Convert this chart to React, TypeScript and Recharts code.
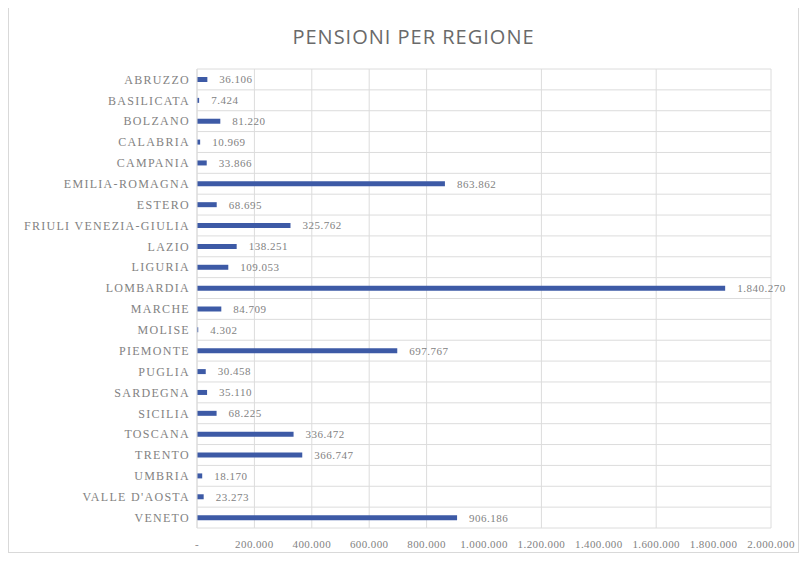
import React from "react";
import { BarChart, Bar, XAxis, YAxis, CartesianGrid, LabelList } from "recharts";

const regions = [
  "ABRUZZO",
  "BASILICATA",
  "BOLZANO",
  "CALABRIA",
  "CAMPANIA",
  "EMILIA-ROMAGNA",
  "ESTERO",
  "FRIULI VENEZIA-GIULIA",
  "LAZIO",
  "LIGURIA",
  "LOMBARDIA",
  "MARCHE",
  "MOLISE",
  "PIEMONTE",
  "PUGLIA",
  "SARDEGNA",
  "SICILIA",
  "TOSCANA",
  "TRENTO",
  "UMBRIA",
  "VALLE D'AOSTA",
  "VENETO",
];

const pensioni = [
  36106, 7424, 81220, 10969, 33866, 863862, 68695, 325762, 138251, 109053,
  1840270, 84709, 4302, 697767, 30458, 35110, 68225, 336472, 366747, 18170,
  23273, 906186,
];

const xTicks = [0, 200000, 400000, 600000, 800000, 1000000, 1200000, 1400000, 1600000, 1800000, 2000000];

const data = regions.map((r, i) => ({ region: r, value: pensioni[i] }));

const BAR_COLOR = "#3d5aa6";
const GRID = "#dcdcdc";
const TEXT = "#828282";
const LABEL_FONT = "'Liberation Serif', 'DejaVu Serif', serif";

// Italian-style thousands separator
function fmt(v: number): string {
  if (v === 0) return "-";
  return String(Math.round(v)).replace(/\B(?=(\d{3})+(?!\d))/g, ".");
}

export default function App() {
  return (
    <div
      style={{
        position: "relative",
        width: 791,
        height: 548,
        border: "1px solid #d9d9d9",
        boxSizing: "border-box",
        background: "#fff",
        marginTop: -3,
      }}
    >
      <div
        style={{
          position: "absolute",
          top: 17,
          left: 10,
          width: "100%",
          textAlign: "center",
          fontFamily: "'Open Sans', 'Noto Sans', sans-serif",
          fontSize: 20,
          letterSpacing: 1,
          color: "#6a6a6a",
        }}
      >
        PENSIONI PER REGIONE
      </div>
      <BarChart
        width={789}
        height={546}
        data={data}
        layout="vertical"
        margin={{ top: 63, right: 27, left: 0, bottom: 0 }}
        barCategoryGap={0}
      >
        <CartesianGrid
          stroke={GRID}
          horizontalCoordinatesGenerator={({ offset }: any) => {
            const band = offset.height / regions.length;
            return regions.map((_, i) => offset.top + i * band).concat(offset.top + offset.height);
          }}
        />
        <XAxis
          type="number"
          domain={[0, 2000000]}
          ticks={xTicks}
          tickFormatter={fmt}
          axisLine={false}
          tickLine={false}
          tickMargin={6}
          height={24}
          tick={{ fill: TEXT, fontSize: 11, fontFamily: LABEL_FONT, letterSpacing: 0.4 }}
        />
        <YAxis
          type="category"
          dataKey="region"
          width={188}
          axisLine={{ stroke: GRID }}
          tickLine={false}
          tickMargin={1}
          interval={0}
          tick={{ fill: TEXT, fontSize: 12, fontFamily: LABEL_FONT, letterSpacing: 1.3 }}
        />
        <Bar dataKey="value" fill={BAR_COLOR} barSize={5} isAnimationActive={false}>
          <LabelList
            dataKey="value"
            position="right"
            offset={12}
            formatter={(v: any) => fmt(Number(v))}
            style={{ fill: TEXT, fontSize: 11, fontFamily: LABEL_FONT, letterSpacing: 0.5 }}
          />
        </Bar>
      </BarChart>
    </div>
  );
}
